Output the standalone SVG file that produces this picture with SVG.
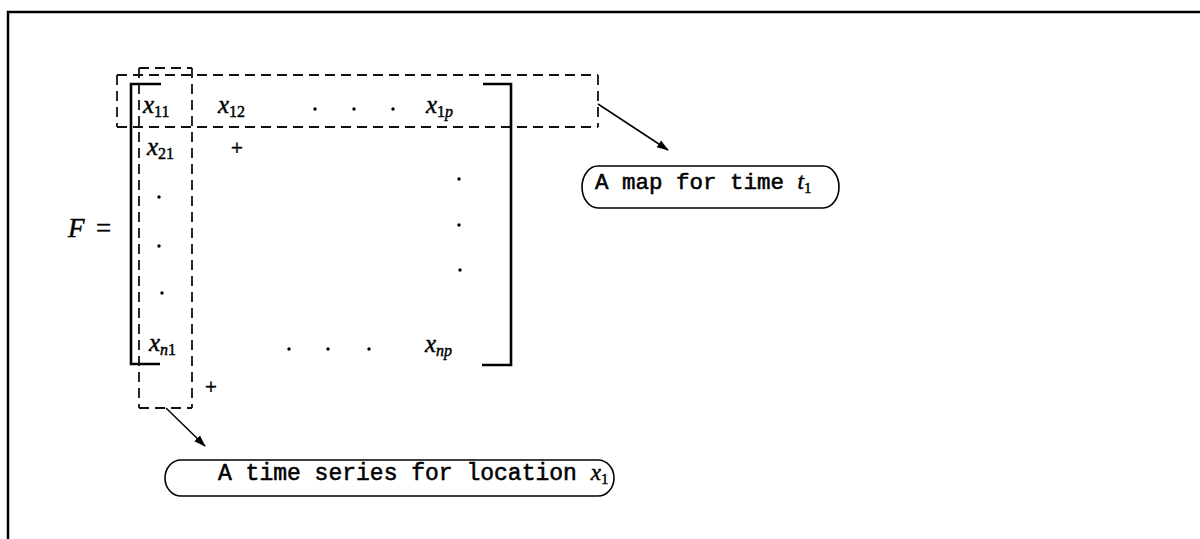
<svg xmlns="http://www.w3.org/2000/svg" width="1200" height="539" viewBox="0 0 1200 539">
<defs>
<style>
.frame{stroke:#000;stroke-width:2.5;fill:none}
.br{stroke:#000;stroke-width:2.6;fill:none;stroke-linecap:butt}
.dash{stroke:#111;stroke-width:1.8;fill:none;stroke-dasharray:10 6}
.m{font-family:"Liberation Serif","DejaVu Serif",serif;font-style:italic;font-size:25px;fill:#000;stroke:#000;stroke-width:0.45}
.sub{font-size:16px;font-style:normal}
.subi{font-size:16px;font-style:italic}
.dot{fill:#000}
.plus{font-family:"Liberation Serif",serif;font-size:21px;fill:#000;stroke:#000;stroke-width:0.5}
.call{stroke:#000;stroke-width:1.6;fill:#fff}
.tt{font-family:"Liberation Mono","DejaVu Sans Mono",monospace;font-size:22.5px;fill:#000;stroke:#000;stroke-width:0.55}
.conn{stroke:#000;stroke-width:1.5;fill:none}
</style>
<marker id="ah" markerWidth="12" markerHeight="10" refX="11" refY="5" orient="auto" markerUnits="userSpaceOnUse">
<path d="M0,1 L12,5 L0,9 Z" fill="#000"/>
</marker>
</defs>
<rect width="1200" height="539" fill="#fff"/>
<g id="frame">
<path class="frame" d="M8,539 L8,12 L1200,12"/>
</g>
<g id="matrix">
<text class="m" x="68" y="237" style="font-size:27px">F</text>
<text class="m" x="96" y="237" style="font-size:27px;font-style:normal">=</text>
<path class="br" d="M161,84 L131,84 L131,364 L160,364"/>
<path class="br" d="M483,84 L511,84 L511,365 L482,365"/>
<text class="m" x="143" y="113">x<tspan class="sub" dy="4">11</tspan></text>
<text class="m" x="218" y="113">x<tspan class="sub" dy="4">12</tspan></text>
<circle class="dot" cx="315" cy="109" r="1.7"/>
<circle class="dot" cx="354" cy="109" r="1.7"/>
<circle class="dot" cx="393" cy="109" r="1.7"/>
<text class="m" x="426" y="113">x<tspan class="sub" dy="4">1</tspan><tspan class="subi">p</tspan></text>
<text class="m" x="147" y="155">x<tspan class="sub" dy="4">21</tspan></text>
<text class="plus" x="231" y="155">+</text>
<circle class="dot" cx="159" cy="197" r="1.7"/>
<circle class="dot" cx="159" cy="246" r="1.7"/>
<circle class="dot" cx="162" cy="293" r="1.7"/>
<circle class="dot" cx="459" cy="179" r="1.7"/>
<circle class="dot" cx="459" cy="225" r="1.7"/>
<circle class="dot" cx="460" cy="270" r="1.7"/>
<text class="m" x="149" y="351">x<tspan class="subi" dy="4">n</tspan><tspan class="sub">1</tspan></text>
<circle class="dot" cx="289" cy="349" r="1.7"/>
<circle class="dot" cx="328" cy="349" r="1.7"/>
<circle class="dot" cx="369" cy="349" r="1.7"/>
<text class="m" x="425" y="352">x<tspan class="subi" dy="4">np</tspan></text>
<text class="plus" x="205" y="394">+</text>
</g>
<g id="row-box">
<path class="dash" d="M117,75 L598,75"/>
<path class="dash" d="M117,75 L117,127"/>
<path class="dash" d="M117,127 L598,127"/>
<path class="dash" d="M598,75 L598,127"/>
</g>
<g id="column-box">
<path class="dash" d="M139,68 L192,68"/>
<path class="dash" d="M139,68 L139,408"/>
<path class="dash" d="M192,68 L192,408"/>
<path class="dash" d="M139,408 L192,408"/>
</g>
<g id="callout-map">
<rect class="call" x="582" y="166" width="257" height="42" rx="16" ry="21"/>
<text class="tt" x="595" y="189">A map for time <tspan class="m" style="font-size:23px">t</tspan><tspan class="m" style="font-size:15px;font-style:normal" dy="4">1</tspan></text>
</g>
<g id="callout-series">
<rect class="call" x="165" y="460" width="449" height="36" rx="16" ry="18"/>
<text class="tt" x="218" y="480" style="font-size:23px">A time series for location <tspan class="m" style="font-size:23px">x</tspan><tspan class="m" style="font-size:15px;font-style:normal" dy="4">1</tspan></text>
</g>
<g id="connectors">
<line class="conn" x1="598" y1="104" x2="668" y2="150" marker-end="url(#ah)"/>
<line class="conn" x1="166" y1="408" x2="205" y2="446" marker-end="url(#ah)"/>
</g>
</svg>
